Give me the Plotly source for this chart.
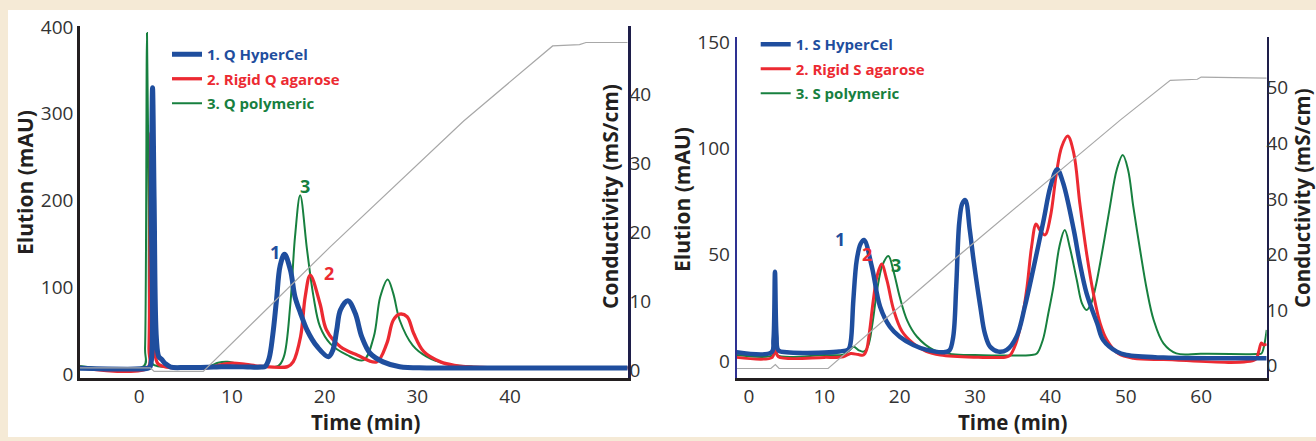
import plotly.graph_objects as go

W, H = 1316, 441

# ---------------- Left panel (Q resins) ----------------
q_hyper_t = [-6.4, 0.9, 1.15, 1.30, 1.43, 1.60, 1.85, 2.1, 2.4, 2.8, 3.4, 5, 8, 10, 12, 13.2,
             13.6, 14.0, 14.4, 14.8, 15.2, 15.67, 16.3, 16.8, 17.4, 18.1, 19.2, 20.4, 20.9,
             21.3, 21.7, 22.5, 23.3, 24.0, 24.9, 26.3, 28.1, 31, 36, 52.7]
q_hyper_y = [6.6, 6.6, 8, 200, 330, 200, 40, 20, 17, 12, 8, 7.5, 8, 8.5, 8, 8,
             9, 18, 45, 85, 125, 138, 120, 89, 70, 50.7, 31.5, 20, 28,
             50.7, 73.8, 84.5, 70, 43, 23.9, 14, 8.4, 7, 7, 7]

q_rigid_t = [-6.4, 0.95, 1.05, 1.26, 1.45, 1.65, 2.0, 3, 7.5, 8.5, 10, 11.5, 13, 16.0, 16.6,
             17.4, 17.9, 18.44, 19.5, 20.2, 21.7, 23.5, 25.6, 26.7, 27.4, 28.1, 28.9, 29.6,
             30.7, 32.5, 34, 37, 52.7]
q_rigid_y = [7.5, 7.5, 30, 278, 120, 30, 12, 8, 7.5, 10, 12.5, 11, 9, 8.5, 14,
             43, 89, 114, 81, 50.7, 31.5, 22, 14, 35, 62, 69, 66, 47,
             25.7, 14, 10, 7.5, 7]

q_poly_t = [-6.4, 0.5, 0.62, 0.83, 1.0, 1.15, 1.4, 2, 5, 7.5, 8.5, 9.5, 10.5, 12, 15.0, 15.6,
            16.3, 16.8, 17.36, 18.1, 18.8, 19.5, 20.6, 22.4, 24.2, 25.3, 26.0, 26.8, 27.4,
            28.1, 29.5, 31, 33, 36, 52.7]
q_poly_y = [9.2, 9.2, 30, 393, 200, 30, 12, 9, 8.5, 9, 13, 14, 12, 9.5, 9.5, 20,
            81, 158, 206, 143, 89, 54.5, 35, 22, 16, 43, 89, 109, 93,
            62, 33, 20, 12, 8.5, 7.5]

q_cond_t = [-6.4, 1.2, 1.6, 6.9, 20.6, 35, 44.6, 47.5, 48.2, 52.7]
q_cond_y = [0.3, 0.3, -0.2, -0.2, 17.9, 36.2, 47.1, 47.3, 47.6, 47.6]

# ---------------- Right panel (S resins) ----------------
s_hyper_t = [-1.63, 3.0, 3.25, 3.45, 3.65, 3.9, 5, 10, 12, 13.2, 13.5, 13.85, 14.3, 14.8,
             15.27, 16.3, 17.4, 18.7, 20.0, 21.8, 23.6, 25.8, 26.6, 27.1, 27.5, 27.9, 28.3,
             28.7, 29.3, 29.8, 30.7, 31.3, 32.0, 33.1, 34.2, 35.5, 36.6, 37.7, 39.1, 40.0,
             40.9, 41.7, 43.1, 43.9, 44.8, 46.2, 47.0, 48.8, 50.1, 55, 68.7]
s_hyper_y = [4.1, 4.1, 10, 42, 12, 5, 4.1, 4.0, 4.5, 5.5, 9, 28.7, 47.5, 55,
             56.9, 44.4, 25.5, 16.1, 11.4, 7.5, 5.2, 4.1, 5, 11.4, 35, 65, 74,
             75.7, 61.6, 47.5, 25.5, 13, 6.7, 4.4, 5.2, 11.4, 25.5, 42.8, 66.3, 82,
             90.2, 83.6, 61.6, 46, 31.8, 17.7, 9.9, 4.4, 2.8, 1.6, 1.3]

s_rigid_t = [-1.63, 3.1, 3.3, 3.45, 3.6, 3.9, 10, 12.5, 13.5, 14.5, 15.2, 15.6, 16.0, 16.5,
             17.0, 17.6, 18.3, 19.2, 20.3, 21.8, 23.5, 25.4, 30, 34.0, 34.6, 35.4, 36.2,
             36.9, 37.5, 38.1, 38.6, 39.3, 40.0, 40.8, 41.5, 42.3, 43.1, 43.9, 44.8, 45.7,
             46.6, 47.5, 49, 51, 55, 67.2, 67.6, 68.0, 68.3, 68.7]
s_rigid_y = [1.7, 1.7, 5, 13.8, 5, 2, 1.7, 2.0, 3.5, 3.0, 2.8, 5.2, 14, 28.7,
             40, 45.6, 38, 24, 14, 8.3, 4.5, 2.8, 1.8, 1.8, 2.5, 8, 19.3,
             35, 53.8, 64.4, 61.6, 59.3, 67.9, 88.3, 100.8, 105.8, 97.7, 74.2, 50.7, 31.8,
             17.7, 9.9, 3.5, 1.3, 0.7, 0.7, 4, 8.5, 7.5, 8]

s_poly_t = [-1.63, 3.2, 3.45, 3.7, 10, 12.5, 13.3, 13.9, 14.6, 15.2, 15.8, 16.4, 17.0, 17.7,
            18.5, 19.2, 20.0, 21.0, 22.3, 24.5, 27, 30, 37.5, 38.2, 39.0, 39.7, 40.4, 41.2,
            41.9, 42.6, 43.5, 44.2, 44.8, 45.4, 46.0, 46.6, 47.2, 47.9, 48.8, 49.6, 50.3,
            51.0, 51.9, 52.8, 53.7, 55.0, 56.7, 60, 67.5, 68.0, 68.4, 68.7]
s_poly_y = [2.8, 2.8, 6.7, 2.8, 2.8, 3.0, 5, 6.7, 5, 4.4, 7, 18, 33.4, 45,
            49.4, 42, 30.2, 19, 11.4, 5.2, 3.2, 2.8, 2.8, 3.5, 10, 22, 35, 54,
            61.6, 53, 38.1, 27, 24, 27, 35, 46, 58, 72.6, 90, 96.9, 90,
            72.6, 52.2, 33.4, 19.3, 8.3, 3.6, 3.4, 3.3, 3.5, 8, 14.6]

s_cond_t = [-1.63, 2.9, 3.5, 4.0, 10.5, 28.0, 49.3, 55.9, 59.5, 60, 68.7]
s_cond_y = [-0.5, -0.5, 0.2, -0.5, -0.5, 20.0, 44.2, 51.3, 51.5, 51.9, 51.7]

# tick values
left_x_ticks = [0, 10, 20, 30, 40]
left_y_ticks = [0, 100, 200, 300, 400]
left_y2_ticks = [0, 10, 20, 30, 40]
right_x_ticks = [0, 10, 20, 30, 40, 50, 60]
right_y_ticks = [0, 50, 100, 150]
right_y2_ticks = [0, 10, 20, 30, 40, 50]

BLUE = "#1f4e9e"
RED = "#ec2a32"
GREEN = "#17803f"
GRAY = "#a8a8a8"
BEIGE = "#f5ead6"
FONT = "Open Sans"


def px(x):
    return x / W


def py(y):
    return 1 - y / H


def lname(txt, color):
    return "<span style='color:%s'><b>%s</b></span>" % (color, txt)


fig = go.Figure()

# Left panel traces
fig.add_trace(go.Scatter(x=q_cond_t, y=q_cond_y, xaxis="x", yaxis="y2", mode="lines",
                         line=dict(color=GRAY, width=1.2), showlegend=False))
fig.add_trace(go.Scatter(x=q_poly_t, y=q_poly_y, xaxis="x", yaxis="y", mode="lines",
                         line=dict(color=GREEN, width=2, shape="spline", smoothing=1),
                         name=lname("3. Q polymeric", GREEN), legend="legend",
                         legendrank=3, legendgroup="q3"))
fig.add_trace(go.Scatter(x=q_rigid_t, y=q_rigid_y, xaxis="x", yaxis="y", mode="lines",
                         line=dict(color=RED, width=3.3, shape="spline", smoothing=1),
                         name=lname("2. Rigid Q agarose", RED), legend="legend",
                         legendrank=2, legendgroup="q2"))
fig.add_trace(go.Scatter(x=q_hyper_t, y=q_hyper_y, xaxis="x", yaxis="y", mode="lines",
                         line=dict(color=BLUE, width=5, shape="spline", smoothing=1),
                         name=lname("1. Q HyperCel", BLUE), legend="legend",
                         legendrank=1, legendgroup="q1"))

# Right panel traces
fig.add_trace(go.Scatter(x=s_cond_t, y=s_cond_y, xaxis="x2", yaxis="y4", mode="lines",
                         line=dict(color=GRAY, width=1.2), showlegend=False))
fig.add_trace(go.Scatter(x=s_poly_t, y=s_poly_y, xaxis="x2", yaxis="y3", mode="lines",
                         line=dict(color=GREEN, width=2, shape="spline", smoothing=1),
                         name=lname("3. S polymeric", GREEN), legend="legend2",
                         legendrank=3, legendgroup="s3"))
fig.add_trace(go.Scatter(x=s_rigid_t, y=s_rigid_y, xaxis="x2", yaxis="y3", mode="lines",
                         line=dict(color=RED, width=3, shape="spline", smoothing=1),
                         name=lname("2. Rigid S agarose", RED), legend="legend2",
                         legendrank=2, legendgroup="s2"))
fig.add_trace(go.Scatter(x=s_hyper_t, y=s_hyper_y, xaxis="x2", yaxis="y3", mode="lines",
                         line=dict(color=BLUE, width=4.5, shape="spline", smoothing=1),
                         name=lname("1. S HyperCel", BLUE), legend="legend2",
                         legendrank=1, legendgroup="s1"))

tickfont = dict(family=FONT, size=19, color="#333333")
axcommon = dict(showgrid=False, zeroline=False, showline=True, ticks="", tickfont=tickfont,
                automargin=False, fixedrange=True)

y_dom_l = [py(378), py(26)]
y_dom_r = [py(378), py(37)]

legcommon = dict(xanchor="left", yanchor="top", bgcolor="rgba(0,0,0,0)",
                 font=dict(family=FONT, size=15), itemwidth=30, tracegroupgap=2,
                 traceorder="grouped")

fig.update_layout(
    width=W, height=H,
    margin=dict(l=0, r=0, t=0, b=0),
    paper_bgcolor=BEIGE,
    plot_bgcolor="rgba(0,0,0,0)",
    font=dict(family=FONT),
    xaxis=dict(domain=[px(80), px(627.7)], range=[-6.4, 52.7], anchor="y", tickvals=left_x_ticks,
               linecolor="#231f20", linewidth=3, ticklabelstandoff=-1, **axcommon),
    yaxis=dict(domain=y_dom_l, range=[-4.6, 401.2], anchor="x", tickvals=left_y_ticks,
               linecolor="#231f20", linewidth=2.5, ticklabelstandoff=0, **axcommon),
    yaxis2=dict(overlaying="y", side="right", anchor="x", range=[-1.16, 50.0], tickvals=left_y2_ticks,
                linecolor="#1e1e4a", linewidth=3, ticklabelstandoff=-5, **axcommon),
    xaxis2=dict(domain=[px(736.7), px(1266.7)], range=[-1.63, 68.7], anchor="y3", tickvals=right_x_ticks,
                linecolor="#231f20", linewidth=3, ticklabelstandoff=-1, **axcommon),
    yaxis3=dict(domain=y_dom_r, range=[-8.0, 152.4], anchor="x2", tickvals=right_y_ticks,
                linecolor="#2e3192", linewidth=2, ticklabelstandoff=1, **axcommon),
    yaxis4=dict(overlaying="y3", side="right", anchor="x2", range=[-2.21, 59.1], tickvals=right_y2_ticks,
                linecolor="#1e1e4a", linewidth=2, ticklabelstandoff=-6, **axcommon),
    legend=dict(x=px(167), y=py(38), **legcommon),
    legend2=dict(x=px(755.7), y=py(28), **legcommon),
    shapes=[dict(type="rect", xref="paper", yref="paper", x0=px(8), x1=1.0, y0=py(437), y1=py(10),
                 fillcolor="white", line=dict(width=0), layer="below")],
)

title_font = dict(family=FONT, size=21, color="#231f20", weight="bold")
anns = [
    ("Elution (mAU)", 25, 183, -90, 21),
    ("Time (min)", 366, 422, 0, 20.5),
    ("Conductivity (mS/cm)", 610, 197, -90, 21),
    ("Elution (mAU)", 682, 199, -90, 21),
    ("Time (min)", 1013, 422, 0, 20.5),
    ("Conductivity (mS/cm)", 1302, 198, -90, 20.5),
]
for txt, ax_, ay_, ang, fs in anns:
    fig.add_annotation(text=txt, x=px(ax_), y=py(ay_), xref="paper", yref="paper", showarrow=False,
                       textangle=ang, font=dict(title_font, size=fs),
                       xanchor="center", yanchor="middle")

peak_font = 18
peaks = [
    ("1", 275, 252, BLUE), ("3", 305, 186, GREEN), ("2", 329, 273, RED),
    ("1", 840, 239, BLUE), ("2", 867, 254, RED), ("3", 896, 265, GREEN),
]
for txt, ax_, ay_, col in peaks:
    fig.add_annotation(text=txt, x=px(ax_), y=py(ay_), xref="paper", yref="paper", showarrow=False,
                       font=dict(family=FONT, size=peak_font, color=col, weight="bold"),
                       xanchor="center", yanchor="middle")

fig.write_html(
    "out.html",
    config={"displayModeBar": False},
    post_script="document.body.style.margin='0';document.body.style.padding='0';"
                "document.body.style.background='%s';" % BEIGE,
)
